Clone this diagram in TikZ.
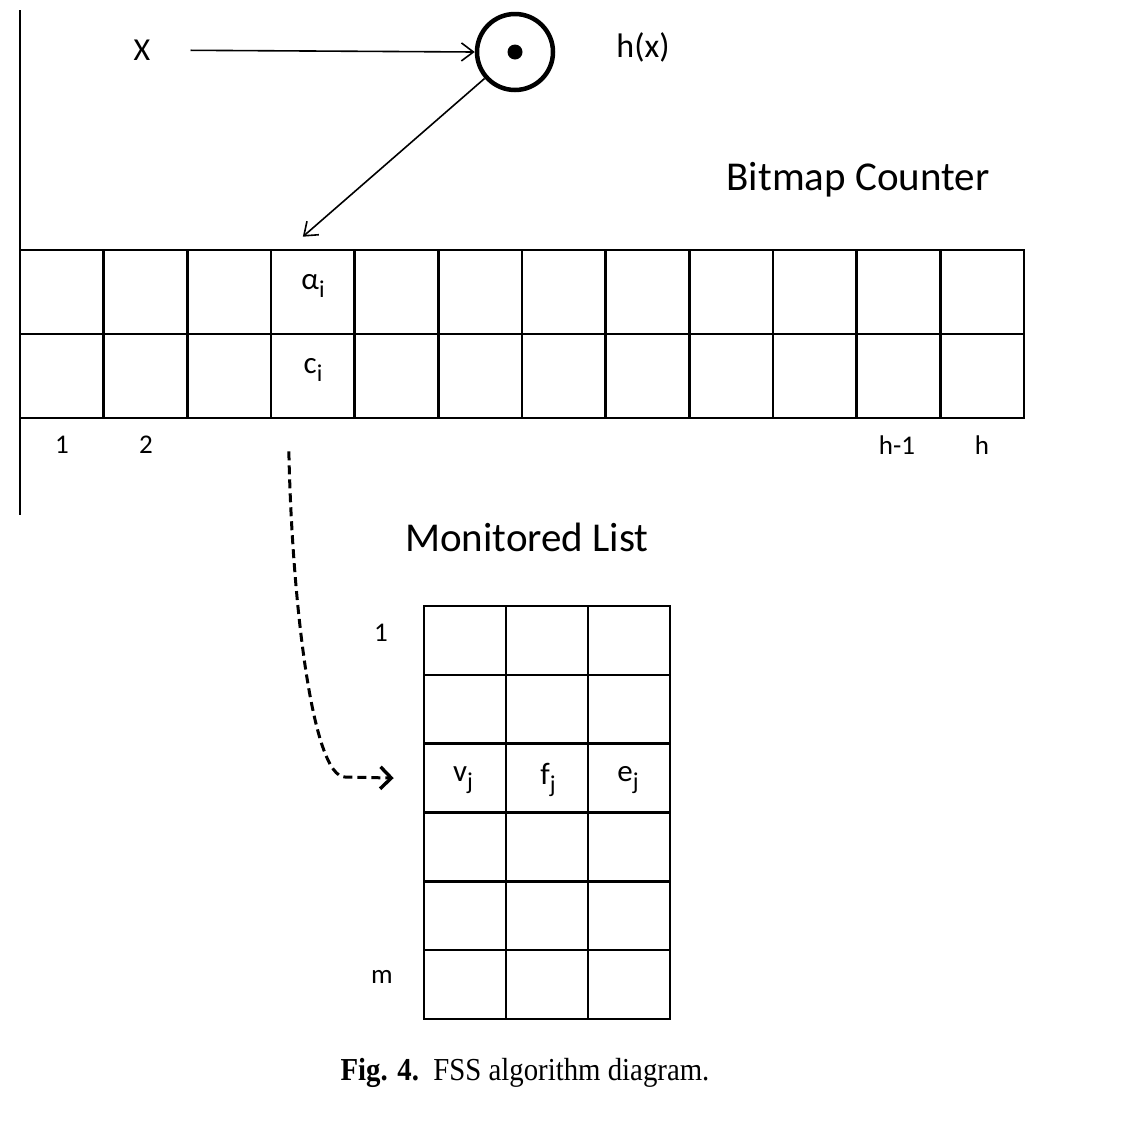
\documentclass[tikz,border=0pt]{standalone}
\usepackage{fontspec}
\setmainfont{Carlito}
\newfontfamily\capfont[FakeStretch=0.9]{Liberation Serif}
\usetikzlibrary{arrows.meta,calc}
\newcommand{\fsz}[1]{\fontsize{#1}{#1}\selectfont}
\newcommand{\sbs}[1]{\raisebox{-0.28em}{\scalebox{0.78}{#1}}}
\begin{document}
\begin{tikzpicture}[x=1pt,y=-1pt,
  bcell/.style={draw, line width=2.6pt, minimum width=83.67pt, minimum height=84pt, inner sep=0pt},
  mcell/.style={draw, line width=2.6pt, minimum width=82pt, minimum height=68.83pt, inner sep=0pt},
  lab/.style={inner sep=0pt, font=\fsz{27}},
  clab/.style={inner sep=0pt, font=\fsz{31}},
  big/.style={inner sep=0pt, font=\fsz{41}},
  arr/.style={line width=1.6pt, -{Straight Barb[length=12pt,width=18pt,line width=1.6pt]}},
  darr/.style={line width=3pt, dash pattern=on 9pt off 5pt, -{Straight Barb[length=11pt,width=22pt,line width=3.4pt]}}
]
\useasboundingbox (0,0) rectangle (1136,1128);
\fill[white] (0,0) rectangle (1136,1128);

% left vertical line
\draw[line width=1.2pt] (20,10) -- (20,515);

% input and hash
\node[inner sep=0pt, font=\fsz{32}] (X) at (142,50) {X};
\node[circle, draw, line width=4.5pt, minimum size=76pt, inner sep=0pt] (h) at (515,52) {};
\node[circle, fill, minimum size=15pt, inner sep=0pt] (dot) at (h.center) {};
\node[inner sep=0pt, font=\fsz{34}] (hx) at (643,47) {h(x)};
\draw[arr, shorten <=40pt] (X) -- (h.west);

% bitmap counter
\node[big] (bmtitle) at (858,180) {Bitmap Counter};
\foreach \i in {1,...,12}{
  \node[bcell] (b\i) at ({20+(\i-0.5)*83.67},292) {};
  \node[bcell] (c\i) at ({20+(\i-0.5)*83.67},376) {};
}
\node[clab] (alpha) at (313,286) {α\sbs{i}};
\node[clab] (ci) at (313,370) {c\sbs{i}};
\node[lab] (n1) at (62,445) {1};
\node[lab] (n2) at (146,445) {2};
\node[lab] (nh1) at (897,445) {h-1};
\node[lab] (nh) at (982,445) {h};

\coordinate (atgt) at ($(b4.north)+(-10,-12)$);
\draw[arr] (h) -- (atgt);

% monitored list
\node[big] (mltitle) at (527,537) {Monitored List};
\foreach \r in {1,...,6}{
  \foreach \c in {1,2,3}{
    \node[mcell] (m\r\c) at ({424+(\c-0.5)*82},{606+(\r-0.5)*68.83}) {};
  }
}
\node[clab] (vj) at (463,780) {v\sbs{j}};
\node[clab] (fj) at (548,780) {f\sbs{j}};
\node[clab] (ej) at (628,780) {e\sbs{j}};
\node[lab] (r1) at (381,633) {1};
\node[lab] (rm) at (382,977) {m};

% dashed pointer
\coordinate (dstart) at ($(c4.south)+(-24,32)$);
\coordinate (dend) at ($(m31.west)+(-29,0)$);
\draw[darr] (dstart) .. controls (292,600) and (312,777) .. (345,777) -- (dend);

% caption
\node[inner sep=0pt, font=\capfont\fsz{32}] (cap) at (525,1073) {\textbf{Fig. 4.}\hspace{0.45em}FSS algorithm diagram.};
\end{tikzpicture}
\end{document}
